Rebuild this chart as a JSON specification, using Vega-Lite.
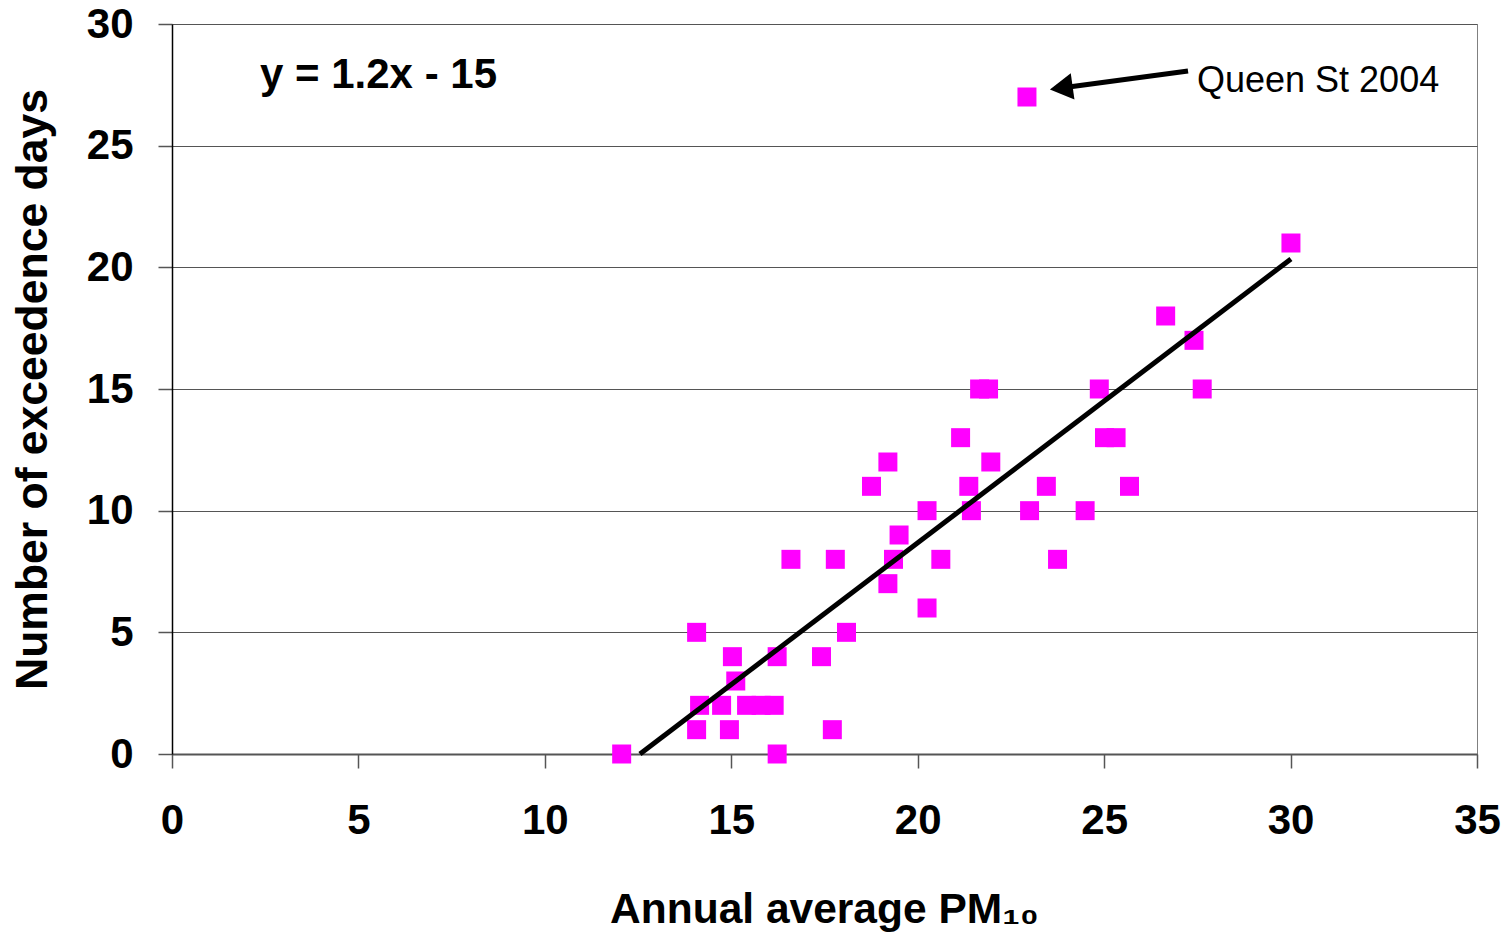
{
  "$schema": "https://vega.github.io/schema/vega-lite/v6.json",
  "width": 1305,
  "height": 730,
  "autosize": "none",
  "padding": {"left": 172, "top": 24, "right": 34, "bottom": 180},
  "background": "white",
  "config": {
    "view": {"stroke": "#808080", "strokeWidth": 1},
    "font": "Liberation Sans"
  },
  "datasets": {
    "pts": [
      {"pm10": 12.06, "days": 0},
      {"pm10": 14.07, "days": 5},
      {"pm10": 14.15, "days": 2},
      {"pm10": 14.07, "days": 1},
      {"pm10": 14.74, "days": 2},
      {"pm10": 14.95, "days": 1},
      {"pm10": 15.03, "days": 4},
      {"pm10": 15.12, "days": 3},
      {"pm10": 15.41, "days": 2},
      {"pm10": 15.80, "days": 2},
      {"pm10": 16.15, "days": 2},
      {"pm10": 16.23, "days": 4},
      {"pm10": 16.23, "days": 0},
      {"pm10": 16.60, "days": 8},
      {"pm10": 17.79, "days": 8},
      {"pm10": 17.42, "days": 4},
      {"pm10": 17.71, "days": 1},
      {"pm10": 18.09, "days": 5},
      {"pm10": 18.76, "days": 11},
      {"pm10": 19.20, "days": 12},
      {"pm10": 19.20, "days": 7},
      {"pm10": 19.35, "days": 8},
      {"pm10": 19.50, "days": 9},
      {"pm10": 20.25, "days": 10},
      {"pm10": 20.25, "days": 6},
      {"pm10": 20.62, "days": 8},
      {"pm10": 21.15, "days": 13},
      {"pm10": 21.37, "days": 11},
      {"pm10": 21.44, "days": 10},
      {"pm10": 21.66, "days": 15},
      {"pm10": 21.90, "days": 15},
      {"pm10": 21.96, "days": 12},
      {"pm10": 23.00, "days": 10},
      {"pm10": 23.45, "days": 11},
      {"pm10": 23.75, "days": 8},
      {"pm10": 24.49, "days": 10},
      {"pm10": 24.87, "days": 15},
      {"pm10": 25.01, "days": 13},
      {"pm10": 25.32, "days": 13},
      {"pm10": 25.68, "days": 11},
      {"pm10": 26.65, "days": 18},
      {"pm10": 27.41, "days": 17},
      {"pm10": 27.63, "days": 15},
      {"pm10": 30.01, "days": 21},
      {"pm10": 22.93, "days": 27}
    ],
    "trend": [
      {"pm10": 12.55, "days": 0},
      {"pm10": 30.01, "days": 20.34}
    ],
    "eq": [{"pm10": 2.36, "days": 27.9, "label": "y = 1.2x - 15"}],
    "note": [{"pm10": 27.49, "days": 27.66, "label": "Queen St 2004"}],
    "arrow": [{"x1": 27.25, "y1": 28.07, "x2": 24.1, "y2": 27.42}],
    "head": [{"pm10": 23.85, "days": 27.37}]
  },
  "layer": [
    {
      "data": {"name": "pts"},
      "mark": {"type": "point", "shape": "square", "filled": true, "color": "#FF00FF", "size": 361, "opacity": 1},
      "encoding": {
        "x": {
          "field": "pm10", "type": "quantitative",
          "scale": {"domain": [0, 35], "nice": false, "zero": false},
          "axis": {
            "values": [0, 5, 10, 15, 20, 25, 30, 35],
            "grid": false,
            "domainColor": "#555555", "domainWidth": 2,
            "tickColor": "#555555", "tickWidth": 1.5, "tickSize": 14,
            "labelFont": "Liberation Sans", "labelFontWeight": "bold", "labelFontSize": 42,
            "labelColor": "black", "labelBaseline": "alphabetic", "labelPadding": 65,
            "labelFlush": false, "labelOverlap": false,
            "title": "Annual average PM₁₀",
            "titleFont": "Liberation Sans", "titleFontWeight": "bold", "titleFontSize": 42.5,
            "titleColor": "black", "titleBaseline": "alphabetic", "titleAnchor": "middle",
            "titleX": 652, "titleY": 168
          }
        },
        "y": {
          "field": "days", "type": "quantitative",
          "scale": {"domain": [0, 30], "nice": false, "zero": false},
          "axis": {
            "values": [0, 5, 10, 15, 20, 25, 30],
            "grid": true, "gridColor": "#555555", "gridWidth": 1,
            "domainColor": "black", "domainWidth": 1.5,
            "tickColor": "#555555", "tickWidth": 1.5, "tickSize": 14,
            "labelFont": "Liberation Sans", "labelFontWeight": "bold", "labelFontSize": 42,
            "labelColor": "black", "labelPadding": 25, "labelBaseline": "middle",
            "labelFlush": false, "labelOverlap": false,
            "title": "Number of exceedence days",
            "titleFont": "Liberation Sans", "titleFontWeight": "bold", "titleFontSize": 44.5,
            "titleColor": "black", "titleAngle": -90, "titleBaseline": "middle", "titleAlign": "center",
            "titleX": -139, "titleY": 365
          }
        }
      }
    },
    {
      "data": {"name": "trend"},
      "mark": {"type": "line", "color": "black", "strokeWidth": 5},
      "encoding": {
        "x": {"field": "pm10", "type": "quantitative"},
        "y": {"field": "days", "type": "quantitative"}
      }
    },
    {
      "data": {"name": "eq"},
      "mark": {"type": "text", "align": "left", "baseline": "middle", "font": "Liberation Sans", "fontWeight": "bold", "fontSize": 42, "color": "black"},
      "encoding": {
        "x": {"field": "pm10", "type": "quantitative"},
        "y": {"field": "days", "type": "quantitative"},
        "text": {"field": "label"}
      }
    },
    {
      "data": {"name": "note"},
      "mark": {"type": "text", "align": "left", "baseline": "middle", "font": "Liberation Sans", "fontSize": 36, "color": "black"},
      "encoding": {
        "x": {"field": "pm10", "type": "quantitative"},
        "y": {"field": "days", "type": "quantitative"},
        "text": {"field": "label"}
      }
    },
    {
      "data": {"name": "arrow"},
      "mark": {"type": "rule", "color": "black", "strokeWidth": 5},
      "encoding": {
        "x": {"field": "x1", "type": "quantitative"},
        "y": {"field": "y1", "type": "quantitative"},
        "x2": {"field": "x2"},
        "y2": {"field": "y2"}
      }
    },
    {
      "data": {"name": "head"},
      "mark": {"type": "point", "shape": "triangle-left", "filled": true, "color": "black", "size": 700, "angle": -8, "opacity": 1},
      "encoding": {
        "x": {"field": "pm10", "type": "quantitative"},
        "y": {"field": "days", "type": "quantitative"}
      }
    }
  ]
}
